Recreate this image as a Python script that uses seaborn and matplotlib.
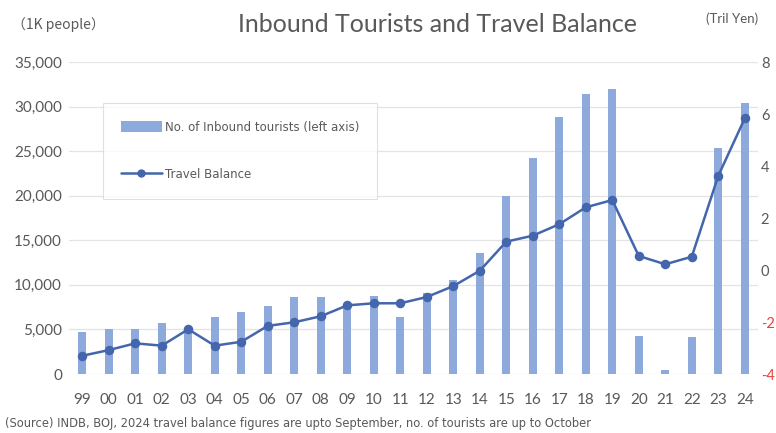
import matplotlib
matplotlib.use("Agg")
import matplotlib.pyplot as plt
import seaborn as sns
import pandas as pd
from matplotlib.patches import Patch
from matplotlib.lines import Line2D
from matplotlib.ticker import FuncFormatter

# Calendar years (1999-2024), shown as two-digit labels
years = ["99", "00", "01", "02", "03", "04", "05", "06", "07", "08", "09", "10", "11",
         "12", "13", "14", "15", "16", "17", "18", "19", "20", "21", "22", "23", "24"]

# Inbound tourists, thousands of people (left axis)
tourists = [4670, 5010, 5000, 5690, 5200, 6430, 6990, 7630, 8600, 8600, 7700, 8750, 6430,
            9050, 10500, 13600, 19970, 24270, 28870, 31410, 32000, 4300, 400, 4100, 25300, 30400]

# Travel balance, trillion yen (right axis)
balance = [-3.30, -3.08, -2.82, -2.91, -2.28, -2.91, -2.76, -2.15, -2.01, -1.78, -1.36, -1.28, -1.28,
           -1.04, -0.62, -0.03, 1.09, 1.32, 1.76, 2.41, 2.69, 0.54, 0.22, 0.51, 3.62, 5.83]

left_ticks = [0, 5000, 10000, 15000, 20000, 25000, 30000, 35000]
right_ticks = [-4, -2, 0, 2, 4, 6, 8]

df = pd.DataFrame({"year": years, "tourists": tourists, "balance": balance})

sns.set_theme(style="white")
plt.rcParams["font.family"] = ["Lato", "DejaVu Sans"]

TEXT = "#595959"
BAR = "#8EA9DB"
LINE = "#4466AD"
GRID = "#E3E3E3"
NEG = "#E8443A"

W, H = 776, 433
fig = plt.figure(figsize=(W / 100, H / 100), dpi=100)
fig.patch.set_facecolor("white")

x0, x1, y_top, y_bot = 69, 758, 62, 374
ax = fig.add_axes([x0 / W, (H - y_bot) / H, (x1 - x0) / W, (y_bot - y_top) / H])

sns.barplot(data=df, x="year", y="tourists", ax=ax, color=BAR, width=0.32,
            saturation=1, edgecolor="none", zorder=2)
ax.set_ylim(0, 35000)
ax.set_yticks(left_ticks)
ax.yaxis.set_major_formatter(FuncFormatter(lambda v, p: f"{int(v):,}"))
ax.grid(axis="y", color=GRID, linewidth=0.9, zorder=0)
ax.set_axisbelow(True)
ax.set_xlabel("")
ax.set_ylabel("")
for s in ax.spines.values():
    s.set_visible(False)
ax.tick_params(axis="y", length=0, pad=5, labelsize=11, labelcolor=TEXT)
ax.tick_params(axis="x", length=0, pad=14, labelsize=11, labelcolor=TEXT)

ax2 = ax.twinx()
sns.pointplot(data=df, x="year", y="balance", ax=ax2, color=LINE, markers="o",
              markersize=5.5, linewidth=1.8, zorder=3)
ax2.set_ylim(-4, 8)
ax2.set_yticks(right_ticks)
ax2.set_yticklabels([str(t) for t in right_ticks])
for lab, t in zip(ax2.get_yticklabels(), right_ticks):
    lab.set_color(NEG if t < 0 else TEXT)
ax2.tick_params(axis="y", length=0, pad=2, labelsize=10.5)
ax2.set_ylabel("")
ax2.set_xlabel("")
ax2.grid(False)
for s in ax2.spines.values():
    s.set_visible(False)
ax.set_xlim(-0.5, len(years) - 0.5)

handles = [Patch(facecolor=BAR, edgecolor="none"),
           Line2D([0], [0], color=LINE, linewidth=1.8, marker="o", markersize=5)]
labels = ["No. of Inbound tourists (left axis)", "Travel Balance"]
leg = ax2.legend(handles, labels, loc="upper left",
                 bbox_to_anchor=((103 - x0) / (x1 - x0), (y_bot - 103) / (y_bot - y_top)),
                 borderaxespad=0, frameon=True, fancybox=False,
                 prop={"family": "DejaVu Sans", "size": 8.5},
                 labelcolor=TEXT, handlelength=3.5, handleheight=1.0, handletextpad=0.25,
                 labelspacing=2.9, borderpad=1.5)
leg.get_frame().set_edgecolor("#D9D9D9")
leg.get_frame().set_linewidth(0.8)
leg.set_zorder(5)

fig.text(438 / W, 1 - 24 / H, "Inbound Tourists and Travel Balance", ha="center", va="center",
         fontsize=18, color=TEXT)
fig.text(12 / W, 1 - 25 / H, "（1K people）", ha="left", va="center", fontsize=10,
         color=TEXT, family=["Noto Sans CJK JP", "DejaVu Sans"])
fig.text(706 / W, 1 - 19 / H, "(Tril Yen)", ha="left", va="center", fontsize=9.5, color=TEXT)
fig.text(5 / W, 1 - 424 / H,
         "(Source) INDB, BOJ, 2024 travel balance figures are upto September, no. of tourists are up to October",
         ha="left", va="center", fontsize=8.3, color=TEXT, family=["DejaVu Sans"])

fig.savefig("out.png", dpi=100, facecolor="white")
